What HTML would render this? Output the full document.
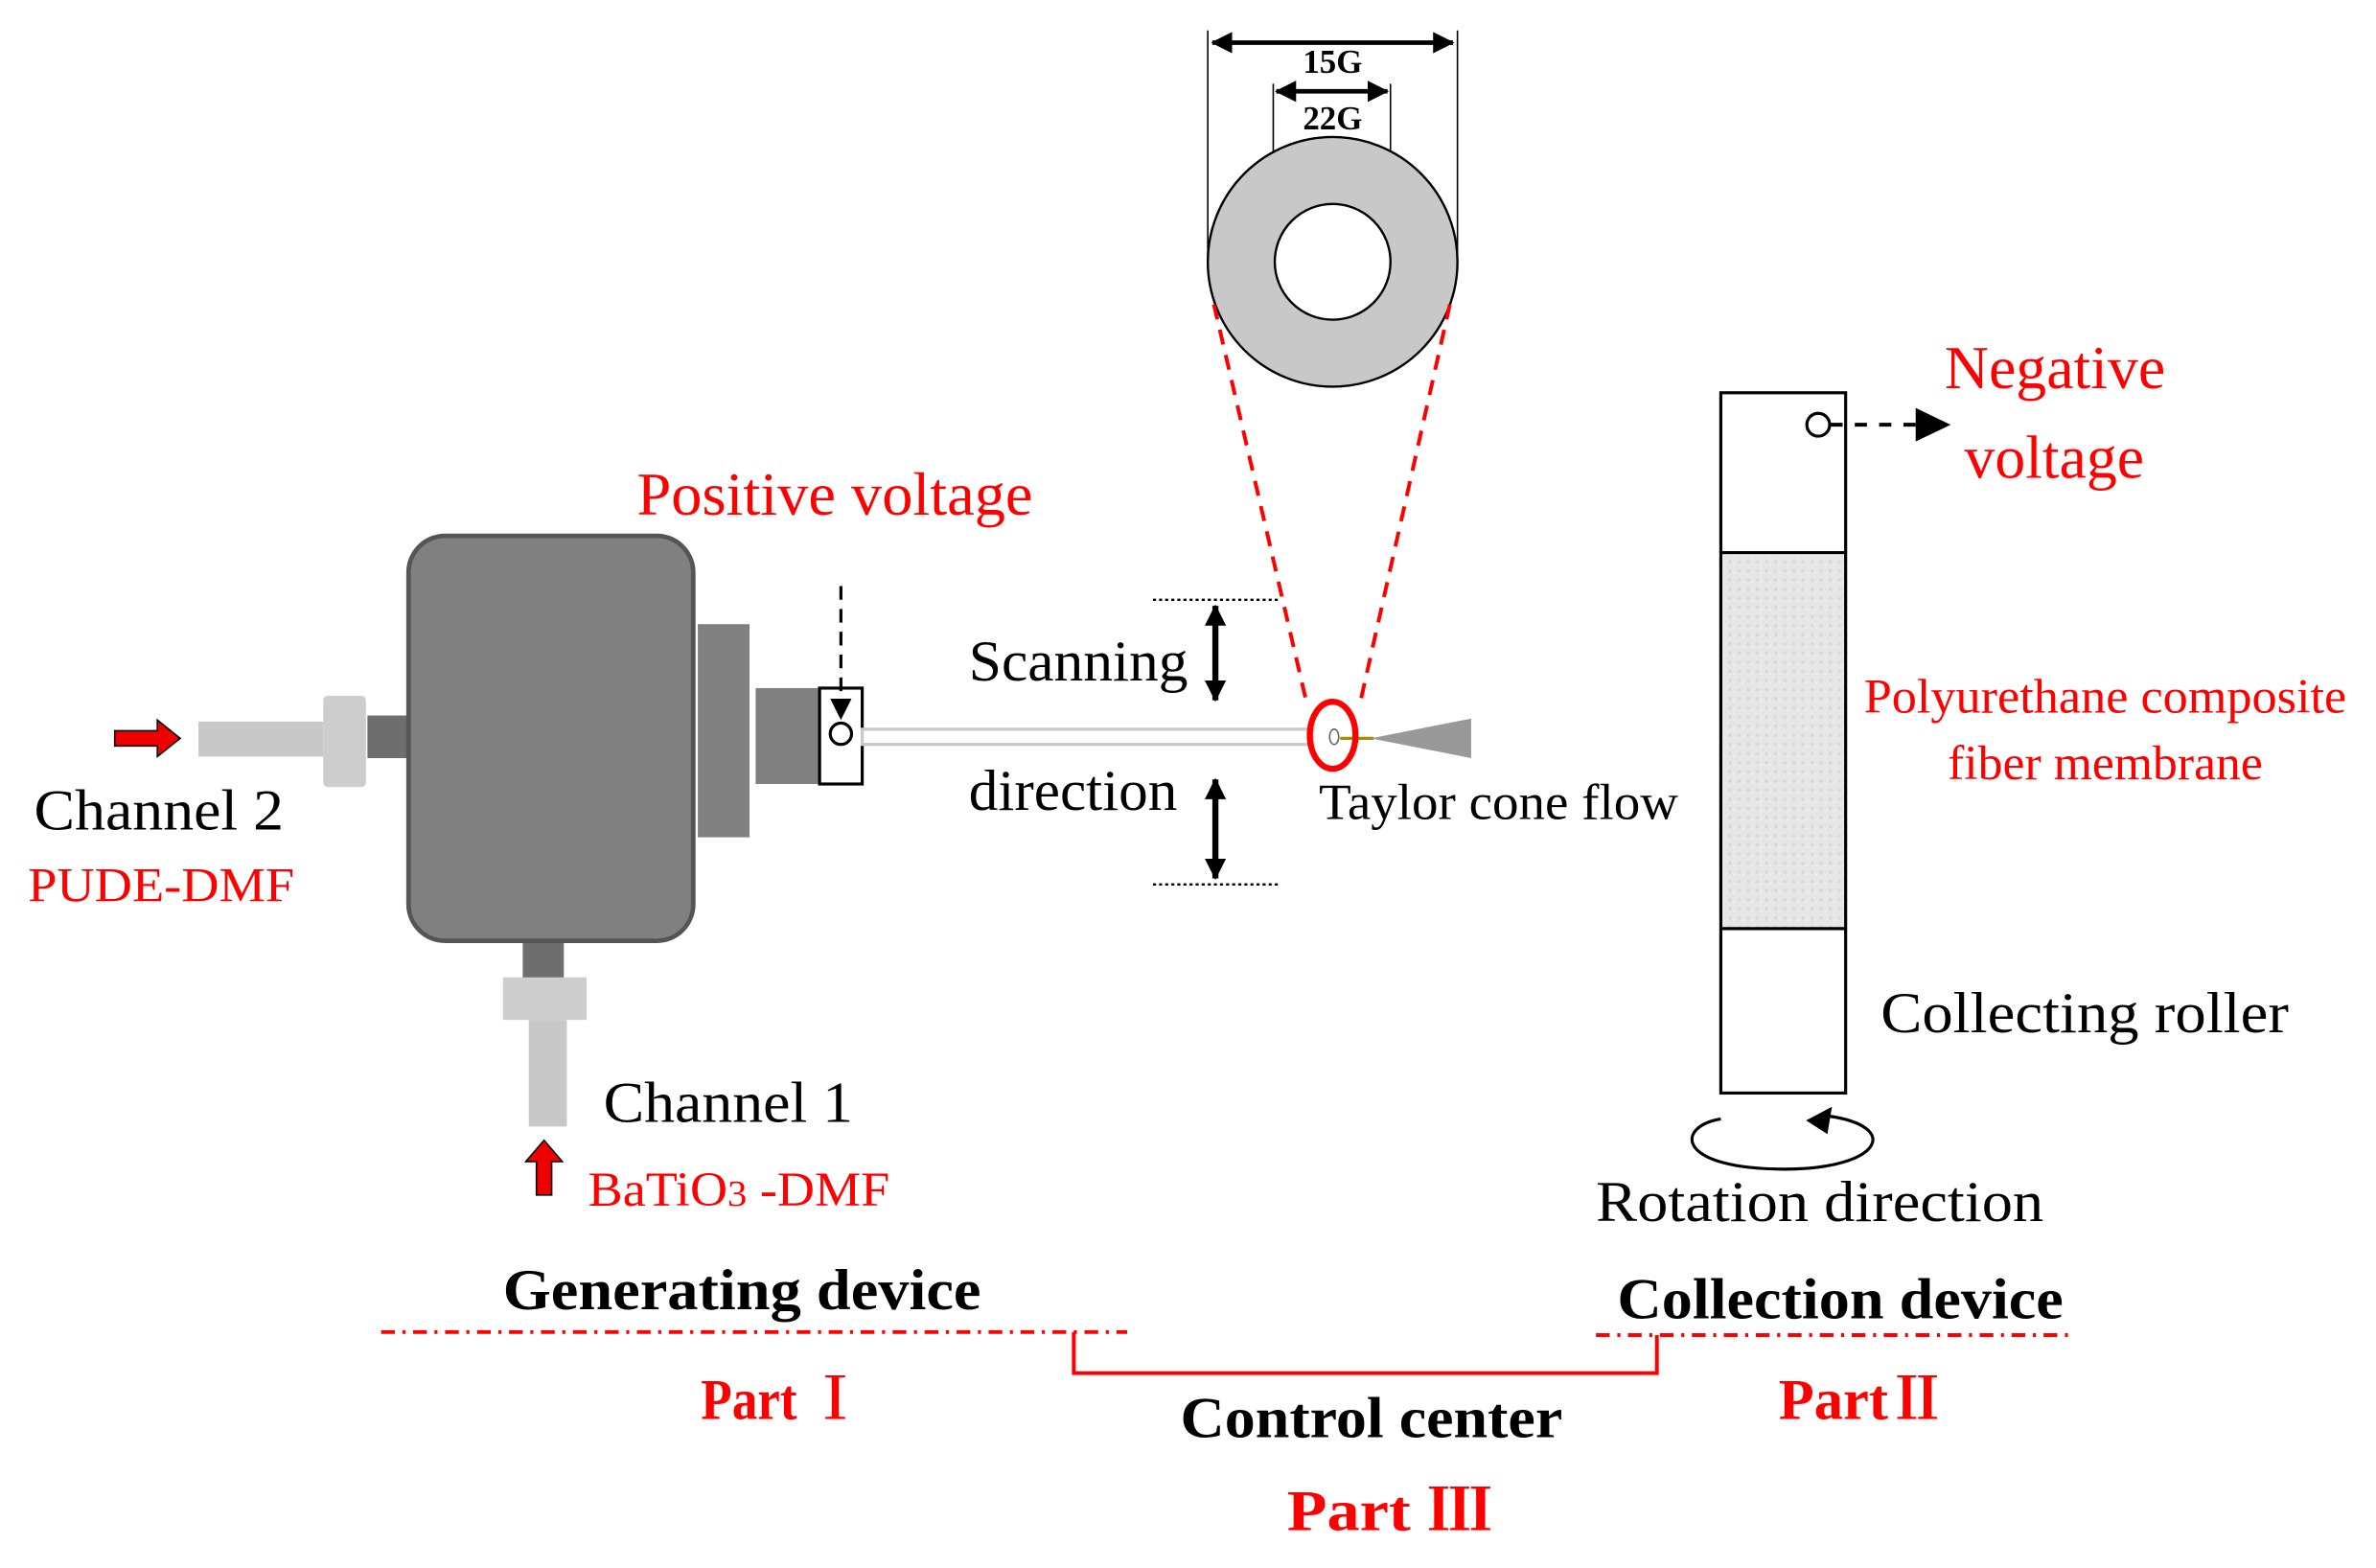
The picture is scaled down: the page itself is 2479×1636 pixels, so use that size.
<!DOCTYPE html>
<html><head><meta charset="utf-8"><style>
html,body{margin:0;padding:0;background:#fff}
svg{display:block}
text{font-family:"Liberation Serif","Noto Serif CJK SC",serif}
</style></head><body>
<svg width="2479" height="1636" viewBox="0 0 1560 1030" xmlns="http://www.w3.org/2000/svg">
<defs>
<marker id="ab" markerWidth="14" markerHeight="14" refX="13" refY="7" orient="auto" markerUnits="userSpaceOnUse"><path d="M0,0 L14,7 L0,14 z" fill="#000"/></marker>
<marker id="as" markerWidth="14" markerHeight="14" refX="1" refY="7" orient="auto" markerUnits="userSpaceOnUse"><path d="M14,0 L0,7 L14,14 z" fill="#000"/></marker>
<pattern id="tex" width="6" height="6" patternUnits="userSpaceOnUse"><rect width="6" height="6" fill="#e6e6e6"/><rect x="1" y="2" width="2" height="2" fill="#d8d8d8"/><rect x="4" y="4" width="1" height="1" fill="#f2f2f2"/></pattern>
</defs>

<rect x="130" y="474" width="82" height="23" fill="#c8c8c8"/>
<rect x="212" y="457" width="28" height="60" rx="3" fill="#cdcdcd"/>
<rect x="241" y="470" width="28" height="28" fill="#6e6e6e"/>
<path d="M75,480 h28 v-7 l15,12 l-15,12 v-7 h-28 z" fill="#e00" stroke="#000" stroke-width="1"/>
<rect x="343" y="616" width="27" height="27" fill="#6e6e6e"/>
<rect x="330" y="642" width="55" height="28" fill="#cdcdcd"/>
<rect x="347" y="670" width="25" height="70" fill="#c8c8c8"/>
<path d="M352,785 v-22 h-7 l12,-14 l12,14 h-7 v22 z" fill="#e00" stroke="#000" stroke-width="1"/>
<rect x="268" y="352" width="187" height="266" rx="24" fill="#808080" stroke="#555" stroke-width="3"/>
<rect x="458" y="410" width="34" height="140" fill="#808080"/>
<rect x="496" y="452" width="44" height="63" fill="#808080"/>
<rect x="538" y="452" width="28" height="63" fill="#fff" stroke="#000" stroke-width="2"/>
<circle cx="552" cy="482" r="7" fill="#fff" stroke="#000" stroke-width="2"/>
<line x1="552" y1="385" x2="552" y2="472" stroke="#000" stroke-width="2" stroke-dasharray="9,6" marker-end="url(#ab)"/>
<rect x="566" y="479" width="296" height="10" fill="#fff" stroke="#c8c8c8" stroke-width="2"/>
<ellipse cx="876" cy="484" rx="3" ry="5" fill="none" stroke="#666"/>
<line x1="880" y1="485" x2="902" y2="485" stroke="#a09000" stroke-width="2"/>
<path d="M900,485 L966,472 L966,498 z" fill="#999"/>
<ellipse cx="875" cy="483" rx="15" ry="22" fill="none" stroke="#f00" stroke-width="4"/>

<line x1="757" y1="394" x2="840" y2="394" stroke="#000" stroke-width="1.5" stroke-dasharray="2,2"/>
<line x1="757" y1="581" x2="840" y2="581" stroke="#000" stroke-width="1.5" stroke-dasharray="2,2"/>
<line x1="798" y1="398" x2="798" y2="460" stroke="#000" stroke-width="4" marker-start="url(#as)" marker-end="url(#ab)"/>
<line x1="798" y1="512" x2="798" y2="577" stroke="#000" stroke-width="4" marker-start="url(#as)" marker-end="url(#ab)"/>

<line x1="793" y1="20" x2="793" y2="172" stroke="#000" stroke-width="1"/>
<line x1="957" y1="20" x2="957" y2="172" stroke="#000" stroke-width="1"/>
<line x1="836" y1="55" x2="836" y2="110" stroke="#000" stroke-width="1"/>
<line x1="913" y1="55" x2="913" y2="110" stroke="#000" stroke-width="1"/>
<line x1="796" y1="28" x2="954" y2="28" stroke="#000" stroke-width="3" marker-start="url(#as)" marker-end="url(#ab)"/>
<line x1="838" y1="60" x2="911" y2="60" stroke="#000" stroke-width="3" marker-start="url(#as)" marker-end="url(#ab)"/>
<text x="875" y="48" font-size="22" font-weight="bold" text-anchor="middle">15G</text>
<text x="875" y="85" font-size="22" font-weight="bold" text-anchor="middle">22G</text>
<circle cx="875" cy="172" r="82" fill="#c8c8c8" stroke="#000" stroke-width="1.5"/>
<circle cx="875" cy="172" r="38" fill="#fff" stroke="#000" stroke-width="1.5"/>
<line x1="797" y1="200" x2="858" y2="462" stroke="#f00" stroke-width="2.5" stroke-dasharray="10,7"/>
<line x1="952" y1="200" x2="893" y2="462" stroke="#f00" stroke-width="2.5" stroke-dasharray="10,7"/>

<rect x="1130" y="363" width="82" height="247" fill="url(#tex)"/>
<rect x="1130" y="258" width="82" height="460" fill="none" stroke="#000" stroke-width="2"/>
<line x1="1130" y1="363" x2="1212" y2="363" stroke="#000" stroke-width="2"/>
<line x1="1130" y1="610" x2="1212" y2="610" stroke="#000" stroke-width="2"/>
<circle cx="1194" cy="279" r="7.5" fill="#fff" stroke="#000" stroke-width="2"/>
<line x1="1202" y1="279" x2="1262" y2="279" stroke="#000" stroke-width="2.5" stroke-dasharray="8,8"/>
<path d="M1258,268 L1281,279 L1258,290 z" fill="#000"/>
<path d="M1200,733 C1250,740 1235,768 1172,768 C1100,768 1100,740 1130,735" fill="none" stroke="#000" stroke-width="2"/>
<path d="M1186,736 L1203,727 L1200,745 z" fill="#000"/>

<g font-size="38" fill="#000" lengthAdjust="spacingAndGlyphs">
<text x="22" y="545" textLength="164" lengthAdjust="spacingAndGlyphs">Channel 2</text>
<text x="396" y="737" textLength="164" lengthAdjust="spacingAndGlyphs">Channel 1</text>
<text x="636" y="447" textLength="144" lengthAdjust="spacingAndGlyphs">Scanning</text>
<text x="636" y="532" textLength="137" lengthAdjust="spacingAndGlyphs">direction</text>
<text x="1235" y="678" textLength="268" lengthAdjust="spacingAndGlyphs">Collecting roller</text>
<text x="1048" y="802" textLength="294" lengthAdjust="spacingAndGlyphs">Rotation direction</text>
</g>
<text x="866" y="538" font-size="33" textLength="236" lengthAdjust="spacingAndGlyphs">Taylor cone flow</text>
<g fill="#f00">
<text x="18" y="592" font-size="32" textLength="175" lengthAdjust="spacingAndGlyphs">PUDE-DMF</text>
<text x="386" y="792" font-size="32" textLength="198" lengthAdjust="spacingAndGlyphs">BaTiO<tspan font-size="24">3</tspan> -DMF</text>
<text x="418" y="338" font-size="40" textLength="260" lengthAdjust="spacingAndGlyphs">Positive voltage</text>
<text x="1277" y="255" font-size="40" textLength="145" lengthAdjust="spacingAndGlyphs">Negative</text>
<text x="1290" y="314" font-size="40" textLength="118" lengthAdjust="spacingAndGlyphs">voltage</text>
<text x="1224" y="468" font-size="32" textLength="317" lengthAdjust="spacingAndGlyphs">Polyurethane composite</text>
<text x="1279" y="512" font-size="32" textLength="207" lengthAdjust="spacingAndGlyphs">fiber membrane</text>
</g>

<text x="330" y="860" font-size="38" font-weight="bold" textLength="314" lengthAdjust="spacingAndGlyphs">Generating device</text>
<text x="1062" y="866" font-size="38" font-weight="bold" textLength="293" lengthAdjust="spacingAndGlyphs">Collection device</text>
<line x1="250" y1="875" x2="740" y2="875" stroke="#f00" stroke-width="2.5" stroke-dasharray="9,5,2,5"/>
<line x1="1048" y1="877" x2="1360" y2="877" stroke="#f00" stroke-width="2.5" stroke-dasharray="9,5,2,5"/>
<path d="M705,875 V902 H1088 V877" fill="none" stroke="#f00" stroke-width="2.5"/>
<text x="775" y="944" font-size="38" font-weight="bold" textLength="251" lengthAdjust="spacingAndGlyphs">Control center</text>
<g fill="#f00" font-size="38" font-weight="bold">
<text x="460" y="932" textLength="105" lengthAdjust="spacingAndGlyphs">Part Ⅰ</text>
<text x="1168" y="932" textLength="110" lengthAdjust="spacingAndGlyphs">PartⅡ</text>
<text x="845" y="1005" textLength="135" lengthAdjust="spacingAndGlyphs">Part  Ⅲ</text>
</g>
</svg>
</body></html>
